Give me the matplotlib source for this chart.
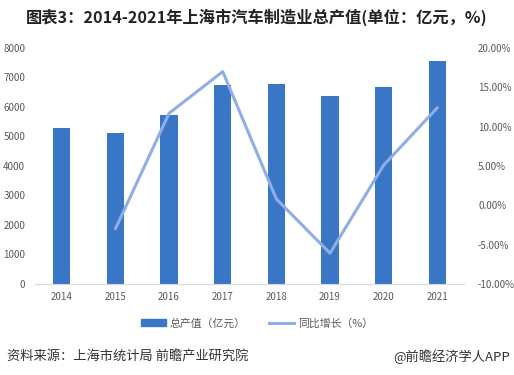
import matplotlib
matplotlib.use("Agg")
import matplotlib.pyplot as plt
from matplotlib.lines import Line2D
from matplotlib.patches import Patch

plt.rcParams['font.family'] = ['Noto Sans CJK SC', 'DejaVu Sans']

years = ['2014', '2015', '2016', '2017', '2018', '2019', '2020', '2021']
output_value = [5290, 5120, 5730, 6760, 6780, 6370, 6680, 7560]
growth_years = ['2015', '2016', '2017', '2018', '2019', '2020', '2021']
growth_pct = [-3.0, 11.7, 17.0, 0.8, -6.1, 5.1, 12.4]
left_ticks = [0, 1000, 2000, 3000, 4000, 5000, 6000, 7000, 8000]
right_ticks = [-10, -5, 0, 5, 10, 15, 20]

bar_color = '#3A76C6'
line_color = '#8FAEE8'
tick_color = '#595959'

fig = plt.figure(figsize=(5.14, 3.75), dpi=100)
ax = fig.add_axes([0.068, 0.243, 0.835, 0.629])
x = list(range(len(years)))
ax.bar(x, output_value, width=0.32, color=bar_color, zorder=2)
ax.set_xlim(-0.5, len(years) - 0.5)
ax.set_ylim(0, 8000)
ax.set_yticks(left_ticks)
ax.set_xticks(x)
ax.set_xticklabels(years)
for s in ['top', 'right', 'left']:
    ax.spines[s].set_visible(False)
ax.spines['bottom'].set_color('#D9D9D9')
ax.tick_params(axis='both', length=0, labelsize=7, colors=tick_color)
ax.tick_params(axis='x', pad=6)
ax.tick_params(axis='y', pad=7)

ax2 = ax.twinx()
gx = [years.index(y) for y in growth_years]
ax2.plot(gx, growth_pct, color=line_color, lw=2.2, zorder=3, solid_capstyle='round')
ax2.set_ylim(-10, 20)
ax2.set_yticks(right_ticks)
ax2.set_yticklabels([f'{v:.2f}%' for v in right_ticks])
for s in ['top', 'right', 'left', 'bottom']:
    ax2.spines[s].set_visible(False)
ax2.tick_params(axis='y', length=0, labelsize=7, colors=tick_color, pad=10)

fig.text(0.5, 0.955, '图表3：2014-2021年上海市汽车制造业总产值(单位：亿元，%)',
         ha='center', va='center', fontsize=11.7, fontweight='bold', color='#222222')

handles = [Patch(color=bar_color), Line2D([0], [0], color=line_color, lw=2.2)]
fig.legend(handles, ['总产值（亿元）', '同比增长（%）'], loc='center',
           bbox_to_anchor=(0.5, 0.138), ncol=2, frameon=False, fontsize=7.8,
           labelcolor=tick_color, handlelength=2.3, handleheight=0.6,
           columnspacing=2.2, handletextpad=0.3)

fig.text(0.014, 0.05, '资料来源：上海市统计局 前瞻产业研究院', ha='left', va='center',
         fontsize=9.5, color='#333333')
fig.text(0.992, 0.05, '@前瞻经济学人APP', ha='right', va='center',
         fontsize=9.5, color='#333333')

fig.savefig('out.png', dpi=100)
